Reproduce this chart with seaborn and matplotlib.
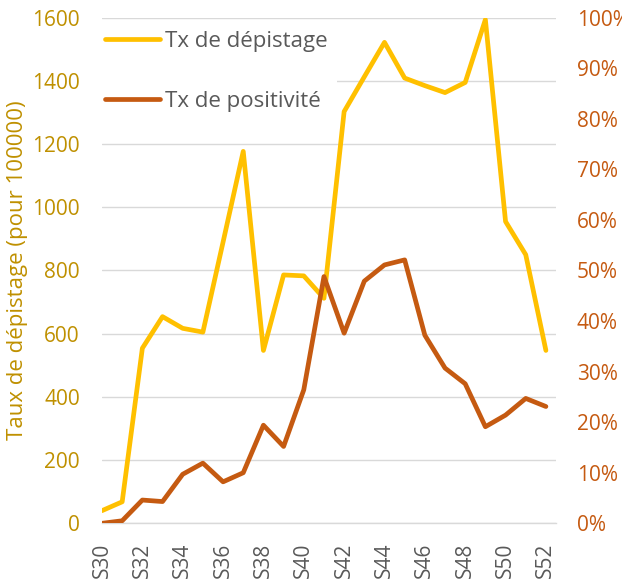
import pandas as pd
import matplotlib.pyplot as plt
import seaborn as sns
from matplotlib.ticker import PercentFormatter

# weekly values
semaines = [f"S{i}" for i in range(30, 53)]
tx_depistage = [40, 68, 554, 654, 617, 605, 890, 1177, 547, 786, 783, 712,
                1303, 1413, 1522, 1409, 1385, 1363, 1395, 1594, 955, 850, 547]
tx_positivite = [0.0, 0.5, 4.6, 4.3, 9.7, 11.9, 8.2, 10.0, 19.4, 15.2, 26.4, 48.8,
                 37.6, 47.9, 51.1, 52.1, 37.2, 30.7, 27.6, 19.1, 21.4, 24.7, 23.1]
y_ticks_left = [0, 200, 400, 600, 800, 1000, 1200, 1400, 1600]
y_ticks_right = [0, 10, 20, 30, 40, 50, 60, 70, 80, 90, 100]

JAUNE = "#FFC000"
ORANGE = "#C55A11"
OR_TXT = "#BF9000"
GRIS = "#595959"
GRILLE = "#D9D9D9"

sns.set_style("white")
plt.rcParams['font.family'] = ['Open Sans', 'DejaVu Sans']

df = pd.DataFrame({'semaine': semaines, 'depistage': tx_depistage,
                   'positivite': tx_positivite})
df['pos'] = range(len(df))

fig = plt.figure(figsize=(6.22, 5.81), dpi=100)
ax1 = fig.add_axes([102 / 622, 1 - 523.3 / 581, 454 / 622, 505.6 / 581])
ax2 = ax1.twinx()

sns.lineplot(data=df, x='pos', y='depistage', ax=ax1, color=JAUNE, lw=3.4,
             sort=False, label='Tx de dépistage', legend=False)
sns.lineplot(data=df, x='pos', y='positivite', ax=ax2, color=ORANGE, lw=3.4,
             sort=False, label='Tx de positivité', legend=False)

ax1.set_xlim(0, len(semaines) - 0.5)
ax1.set_ylim(0, 1600)
ax2.set_ylim(0, 100)

ax1.set_yticks(y_ticks_left)
ax1.set_yticklabels([str(v) for v in y_ticks_left], color=OR_TXT, fontsize=15)
ax2.set_yticks(y_ticks_right)
ax2.yaxis.set_major_formatter(PercentFormatter(100, decimals=0))
for t in ax2.get_yticklabels():
    t.set_color(ORANGE)
    t.set_fontsize(15)
ax1.tick_params(axis='y', length=0, pad=16)
ax2.tick_params(axis='y', length=0, pad=15)

ax1.set_xticks(df['pos'])
ax1.set_xticklabels([s if i % 2 == 0 else "" for i, s in enumerate(semaines)],
                    rotation=90, color=GRIS, fontsize=15)
ax1.tick_params(axis='x', direction='in', length=5.5, width=1, color=GRILLE, pad=14)

ax1.set_xlabel("")
ax1.set_ylabel("Taux de dépistage (pour 100000)", color=OR_TXT, fontsize=16, labelpad=3)
ax2.set_ylabel("")

ax1.grid(axis='y', color=GRILLE, lw=1)
ax1.set_axisbelow(True)
for ax in (ax1, ax2):
    for s in ('top', 'left', 'right'):
        ax.spines[s].set_visible(False)
    ax.spines['bottom'].set_color(GRILLE)
    ax.spines['bottom'].set_linewidth(1)
ax2.spines['bottom'].set_visible(False)

h1 = ax1.get_lines()[:1]
h2 = ax2.get_lines()[:1]
leg = ax1.legend(h1 + h2, ['Tx de dépistage', 'Tx de positivité'],
                 loc='upper left', bbox_to_anchor=(84 / 622, 1 - 10 / 581),
                 bbox_transform=fig.transFigure, frameon=True, facecolor='white',
                 edgecolor='none', framealpha=1, fontsize=16, handlelength=2.45,
                 handletextpad=0.23, labelspacing=1.75, borderpad=0.45)
for t in leg.get_texts():
    t.set_color(GRIS)

fig.savefig("out.png", dpi=100)
